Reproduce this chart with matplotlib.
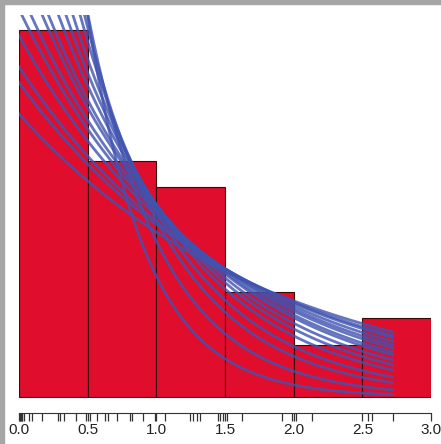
import matplotlib
matplotlib.use("Agg")
import matplotlib.pyplot as plt
from matplotlib.patches import Rectangle
import numpy as np

obs = [0.005, 0.01, 0.015, 0.02, 0.025, 0.035, 0.07, 0.095, 0.17, 0.285, 0.30, 0.33, 0.415, 0.49,
       0.517, 0.568, 0.626, 0.648, 0.714, 0.808, 0.823, 0.903, 0.99,
       1.063, 1.245, 1.267, 1.296, 1.318, 1.449, 1.465, 1.485,
       1.515, 1.624, 1.915, 1.99,
       2.02, 2.134,
       2.54, 2.57, 2.72]

bin_edges = [0.0, 0.5, 1.0, 1.5, 2.0, 2.5, 3.0]
tick_pos = [0.0, 0.5, 1.0, 1.5, 2.0, 2.5, 3.0]
tick_labels = ["0.0", "0.5", "1.0", "1.5", "2.0", "2.5", "3.0"]

# exponential rates of the overlaid density curves
rates = [0.54, 0.60, 0.63, 0.69, 0.74, 0.78, 0.84, 0.88, 0.96, 1.04, 1.14, 1.30, 1.47, 1.80, 2.30]

plt.rcParams['font.family'] = ['Liberation Sans', 'DejaVu Sans']

fig = plt.figure(figsize=(4.41, 4.44), dpi=100)
ax = fig.add_axes([19 / 441, 31.3 / 444, 412 / 441, 397.2 / 444])

ax.hist(obs, bins=bin_edges, density=True, color='#E00D2D',
        edgecolor='#3a0a0a', linewidth=0.8)

xs = np.linspace(0, max(obs), 400)
for lam in rates:
    ax.plot(xs, lam * np.exp(-lam * xs), color='#4053B0', alpha=0.8, lw=2.0)

ax.set_xlim(0, 3)
ax.set_ylim(-0.03, 0.728)

for s in ['left', 'top', 'right']:
    ax.spines[s].set_visible(False)
ax.spines['bottom'].set_color('#333333')
ax.spines['bottom'].set_linewidth(0.8)
ax.set_yticks([])

ax.set_xticks(tick_pos)
ax.set_xticklabels(tick_labels)
ax.set_xticks(obs, minor=True)
ax.tick_params(axis='x', which='both', direction='out', length=5.5, width=0.9,
               color='#333333', labelsize=11, labelcolor='#222222', pad=2)

# grey frame on top and left edge
fig.patches.append(Rectangle((0, 0), 4 / 441, 1, transform=fig.transFigure,
                             color='#A6A6A6', zorder=10))
fig.patches.append(Rectangle((0, 1 - 4 / 444), 1, 4 / 444, transform=fig.transFigure,
                             color='#A6A6A6', zorder=10))

fig.savefig("out.png", dpi=100)
